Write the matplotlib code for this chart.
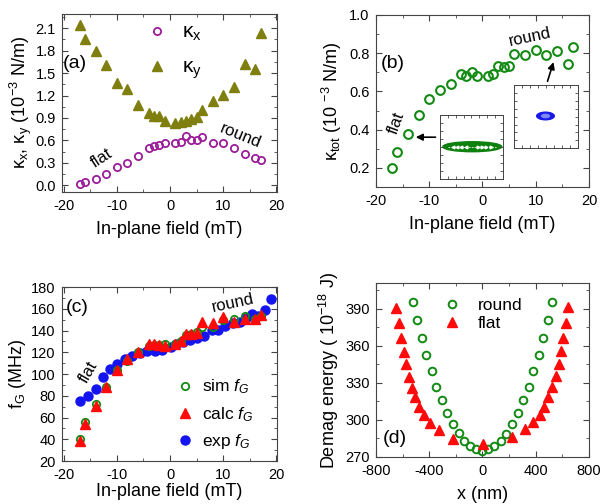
import matplotlib
matplotlib.use('Agg')
import matplotlib.pyplot as plt
from matplotlib.ticker import MultipleLocator, FormatStrFormatter
from matplotlib.patches import Ellipse

plt.rcParams['font.family'] = ['Liberation Sans', 'DejaVu Sans']
plt.rcParams['mathtext.fontset'] = 'custom'
plt.rcParams['mathtext.rm'] = 'Liberation Sans'
plt.rcParams['mathtext.it'] = 'Liberation Sans:italic'
plt.rcParams['axes.unicode_minus'] = False

# (a) stiffness vs field
field_a = [-17, -16, -14, -12, -10, -8, -6, -4, -3, -2, -1, 1, 2, 3, 4, 5, 6, 8, 10, 12, 14, 16, 17]
kx = [0.02, 0.04, 0.08, 0.15, 0.24, 0.30, 0.39, 0.50, 0.52, 0.545, 0.57, 0.57, 0.58, 0.655, 0.61, 0.60,
      0.645, 0.57, 0.57, 0.50, 0.42, 0.37, 0.34]
ky = [2.14, 1.96, 1.80, 1.61, 1.37, 1.285, 1.08, 0.97, 0.92, 0.92, 0.86, 0.83, 0.85, 0.86, 0.89, 0.91,
      1.00, 1.13, 1.21, 1.31, 1.62, 1.56, 2.04]

# (b) total stiffness
ktot = [0.20, 0.285, 0.378, 0.477, 0.56, 0.61, 0.64, 0.69, 0.68, 0.70, 0.68, 0.68, 0.69, 0.735, 0.73, 0.735,
        0.795, 0.79, 0.817, 0.79, 0.81, 0.745, 0.83]

# (c) gyrotropic frequency
f_sim = [40.5, 55.5, 72.5, 88, 104, 112, 120, 126, 127, 127, 128, 128, 130, 136, 137, 139,
         143, 143, 150, 151, 153, 151, 153]
f_calc = [38, 54, 71, 88.5, 104, 114, 120, 127.5, 127.5, 127, 126, 128, 130, 137, 137, 138,
          148, 147, 152, 148, 151, 151, 154]
field_exp = [-17, -15.5, -14, -12.6, -11.2, -9.9, -8.5, -7.1, -5.7, -4.3, -2.9, -1.5, 0.1, 1.2, 2.5, 3.7,
             5.0, 6.4, 7.8, 9.0, 10.4, 11.8, 13.1, 14.3, 15.4, 16.6, 17.8, 19.0]
f_exp = [75, 80, 86, 97.5, 105, 109, 113.5, 117, 119.6, 121, 121.4, 122, 125, 128, 129.7, 131.3,
         132.8, 135.2, 140.5, 140.5, 144.4, 146.6, 148.1, 151.2, 155, 153.6, 159, 169]

# (d) demag energy vs core position
x_round = [-525, -495, -457, -425, -382, -346, -306, -269, -224, -179, -137, -91, -46, 0,
           45, 90, 137, 178, 224, 269, 307, 348, 382, 425, 457, 495, 525]
e_round = [395.9, 381.1, 366.7, 352.7, 339.7, 327, 316.2, 305.4, 296.5, 289.2, 283.2, 279.2, 276.2, 275.1,
           276.2, 278.9, 283.2, 288.6, 296.5, 305.4, 316.2, 327, 339.7, 352.7, 366.7, 381.1, 395.9]
x_flat = [-650, -630, -612, -593, -575, -555, -530, -505, -475, -437, -393, -324, -219, 3,
          219, 320, 382, 432, 465, 495, 525, 553, 573, 590, 608, 628, 645]
e_flat = [390.6, 378.4, 366.7, 355.4, 345.2, 335.1, 326.2, 318.4, 310.8, 304, 297.8, 291.9, 284.6, 280.5,
          286.5, 292.4, 298.6, 304, 310.8, 318.4, 326.5, 335.7, 345.4, 356, 366.7, 378.9, 391.4]

purple = '#9b1d9b'
olive = '#7f7f10'
green = '#138a13'
red = '#ff0a0a'
blue = '#1414f0'

fig = plt.figure(figsize=(6.03, 5.04), dpi=100)
ax_a = fig.add_axes([0.1028, 0.6190, 0.3566, 0.3532])
ax_b = fig.add_axes([0.6235, 0.6290, 0.3532, 0.3413])
ax_c = fig.add_axes([0.1028, 0.0853, 0.3566, 0.3452])
ax_d = fig.add_axes([0.6235, 0.0933, 0.3532, 0.3452])


def style(ax, xmaj, ymaj):
    ax.xaxis.set_major_locator(MultipleLocator(xmaj))
    ax.xaxis.set_minor_locator(MultipleLocator(xmaj / 2))
    ax.yaxis.set_major_locator(MultipleLocator(ymaj))
    ax.yaxis.set_minor_locator(MultipleLocator(ymaj / 2))
    ax.tick_params(which='both', direction='in', top=True, right=True, labelsize=10.5, color='#444444')
    ax.tick_params(which='major', length=4, width=0.8)
    ax.tick_params(which='minor', length=2, width=0.6)
    ax.tick_params(axis='x', which='major', pad=5)
    ax.tick_params(axis='y', which='major', pad=4.5)
    for s in ax.spines.values():
        s.set_linewidth(0.8)
        s.set_color('#444444')


# panel a
ax_a.plot(field_a, kx, 'o', ms=5.2, mfc='none', mec=purple, mew=1.3, ls='none', label='κ$_\\mathregular{x}$')
ax_a.plot(field_a, ky, '^', ms=6.5, color=olive, ls='none', label='κ$_\\mathregular{y}$')
ax_a.set_xlim(-20.3, 20.1)
ax_a.set_ylim(-0.09, 2.29)
style(ax_a, 10, 0.3)
ax_a.yaxis.set_major_formatter(FormatStrFormatter('%.1f'))
ax_a.set_xlabel('In-plane field (mT)', fontsize=13, labelpad=6)
ax_a.set_ylabel('κ$_\\mathregular{x}$, κ$_\\mathregular{y}$ (10$^\\mathregular{-3}$ N/m)', fontsize=13, labelpad=1)
ax_a.text(-17.8, 1.63, '(a)', fontsize=14, ha='center', va='center')
ax_a.text(-12.9, 0.36, 'flat', fontsize=12, rotation=33, ha='center', va='center')
ax_a.text(13.3, 0.66, 'round', fontsize=12, rotation=-22, ha='center', va='center')
ax_a.legend(loc='upper left', bbox_to_anchor=(0.305, 1.055), frameon=False, fontsize=15,
            handlelength=1.0, handletextpad=0.7, labelspacing=0.7, borderpad=0.4)

# panel b
ax_b.plot(field_a, ktot, 'o', ms=6.3, mfc='none', mec=green, mew=1.5, ls='none')
ax_b.set_xlim(-20, 20)
ax_b.set_ylim(0.1, 1.0)
style(ax_b, 10, 0.2)
ax_b.yaxis.set_major_formatter(FormatStrFormatter('%.1f'))
ax_b.set_xlabel('In-plane field (mT)', fontsize=13, labelpad=6)
ax_b.set_ylabel('κ$_\\mathregular{tot}$ (10 $^\\mathregular{-3}$ N/m)', fontsize=13, labelpad=4)
ax_b.text(-16.9, 0.747, '(b)', fontsize=14, ha='center', va='center')
ax_b.text(-16.1, 0.434, 'flat', fontsize=12, rotation=70, ha='center', va='center')
ax_b.text(8.9, 0.885, 'round', fontsize=12, rotation=12, ha='center', va='center')
ax_b.annotate('', xy=(-13.05, 0.3605), xytext=(-8.3, 0.3605),
              arrowprops=dict(arrowstyle='-|>', color='black', lw=1.2, mutation_scale=10))
ax_b.annotate('', xy=(13.5, 0.767), xytext=(12.06, 0.639),
              arrowprops=dict(arrowstyle='-|>', color='black', lw=1.2, mutation_scale=10))

# insets with the core shapes
ins1 = fig.add_axes([0.7297, 0.6442, 0.1040, 0.1276])
ins2 = fig.add_axes([0.8524, 0.7058, 0.1066, 0.1256])
for ins in (ins1, ins2):
    ins.set_xlim(0, 1)
    ins.set_ylim(0, 1)
    ins.xaxis.set_major_locator(MultipleLocator(0.125))
    ins.yaxis.set_major_locator(MultipleLocator(0.125))
    ins.tick_params(direction='in', top=True, right=True, length=2, width=0.6,
                    labelbottom=False, labelleft=False, color='#444444')
    for s in ins.spines.values():
        s.set_linewidth(0.7)
        s.set_color('#444444')
ins1.add_patch(Ellipse((0.515, 0.507), 0.94, 0.155, color='#0d800d'))
ins1.plot([0.12, 0.9], [0.507, 0.507], color='white', lw=0.6, ls=(0, (2, 1.5)))
ins1.plot([0.2, 0.27, 0.34, 0.41], [0.507] * 4, '<', color='white', ms=2)
ins1.plot([0.6, 0.67, 0.74, 0.81], [0.507] * 4, '>', color='white', ms=2)
ins2.add_patch(Ellipse((0.49, 0.51), 0.275, 0.12, color='#1a1ae6'))
ins2.add_patch(Ellipse((0.49, 0.51), 0.12, 0.05, color='#7d8cf5'))

# panel c
ax_c.plot(field_a, f_sim, 'o', ms=5.3, mfc='none', mec=green, mew=1.3, ls='none', label='sim $f_G$', zorder=3)
ax_c.plot(field_a, f_calc, '^', ms=7, color=red, ls='none', label='calc $f_G$', zorder=4)
ax_c.plot(field_exp, f_exp, 'o', ms=6.5, color=blue, ls='none', label='exp $f_G$', zorder=2)
ax_c.set_xlim(-20.3, 20.1)
ax_c.set_ylim(20, 180)
style(ax_c, 10, 20)
ax_c.set_xlabel('In-plane field (mT)', fontsize=13, labelpad=0.5)
ax_c.set_ylabel('f$_\\mathregular{G}$ (MHz)', fontsize=13, labelpad=2)
ax_c.text(-17.4, 161, '(c)', fontsize=14, ha='center', va='center')
ax_c.text(-15.3, 102, 'flat', fontsize=12, rotation=60, ha='center', va='center')
ax_c.text(11.8, 165, 'round', fontsize=12, rotation=12, ha='center', va='center')
ax_c.legend(loc='lower left', bbox_to_anchor=(0.458, -0.035), frameon=False, fontsize=12.5,
            handlelength=1.0, handletextpad=0.5, labelspacing=0.5, borderpad=0.4)

# panel d
ax_d.plot(x_round, e_round, 'o', ms=5.5, mfc='none', mec=green, mew=1.4, ls='none', label='round')
ax_d.plot(x_flat, e_flat, '^', ms=7, color=red, ls='none', label='flat')
ax_d.set_xlim(-800, 800)
ax_d.set_ylim(270, 411)
style(ax_d, 400, 30)
ax_d.set_xlabel('x (nm)', fontsize=13, labelpad=6)
ax_d.set_ylabel('Demag energy ( 10$^\\mathregular{-18}$ J)', fontsize=13, labelpad=3)
ax_d.text(-658, 285, '(d)', fontsize=14, ha='center', va='center')
ax_d.legend(loc='upper left', bbox_to_anchor=(0.241, 1.005), frameon=False, fontsize=12.5,
            handlelength=1.0, handletextpad=1.0, labelspacing=0.15, borderpad=0.4)

fig.savefig('out.png', dpi=100)
